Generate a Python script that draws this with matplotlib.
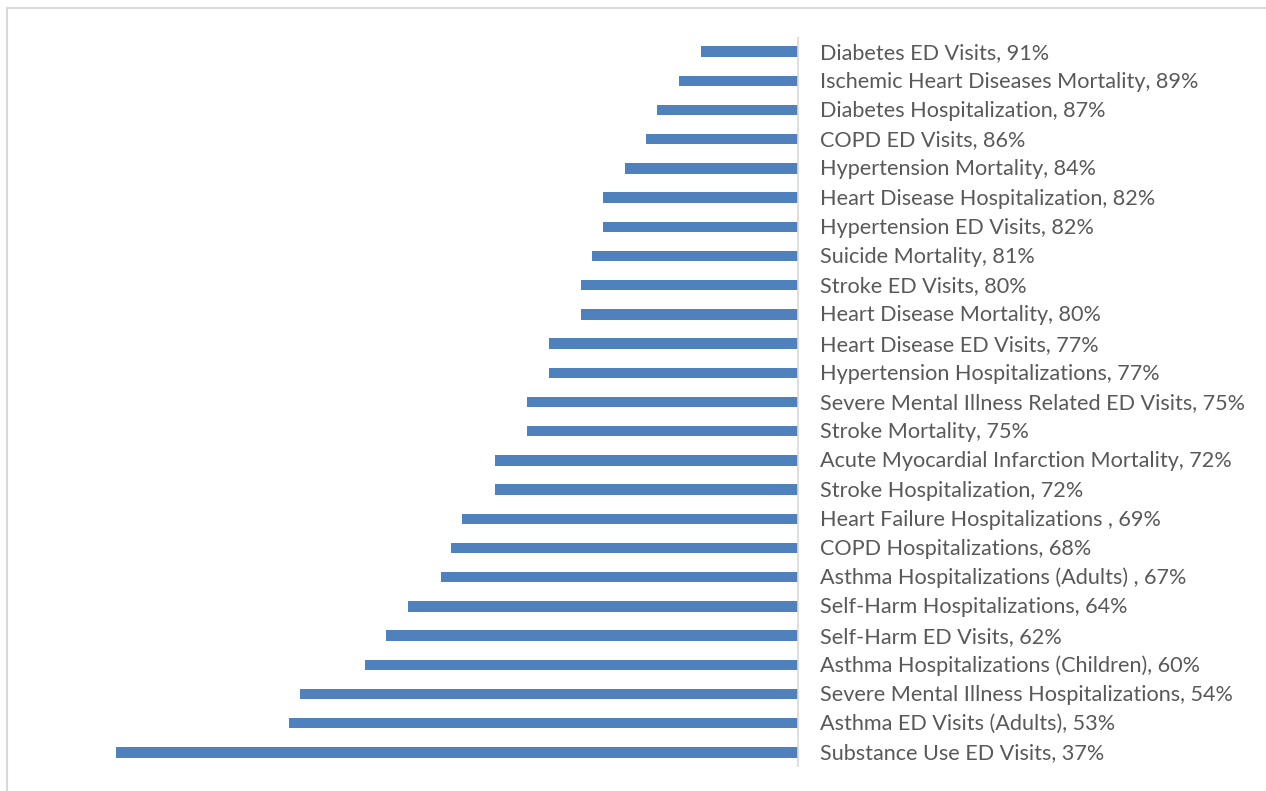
import matplotlib.pyplot as plt
from matplotlib.patches import Rectangle

# measures, top to bottom
labels = [
    "Diabetes ED Visits", "Ischemic Heart Diseases Mortality", "Diabetes Hospitalization",
    "COPD ED Visits", "Hypertension Mortality", "Heart Disease Hospitalization",
    "Hypertension ED Visits", "Suicide Mortality", "Stroke ED Visits",
    "Heart Disease Mortality", "Heart Disease ED Visits", "Hypertension Hospitalizations",
    "Severe Mental Illness Related ED Visits", "Stroke Mortality",
    "Acute Myocardial Infarction Mortality", "Stroke Hospitalization",
    "Heart Failure Hospitalizations ", "COPD Hospitalizations",
    "Asthma Hospitalizations (Adults) ", "Self-Harm Hospitalizations", "Self-Harm ED Visits",
    "Asthma Hospitalizations (Children)", "Severe Mental Illness Hospitalizations",
    "Asthma ED Visits (Adults)", "Substance Use ED Visits",
]
pct = [91, 89, 87, 86, 84, 82, 82, 81, 80, 80, 77, 77, 75, 75, 72, 72, 69, 68, 67, 64, 62, 60, 54, 53, 37]

W, H = 1266, 791
fig = plt.figure(figsize=(W / 100, H / 100), dpi=100)
fig.patches.append(Rectangle((7 / W, -0.01), 1.02, 1 - 8 / H + 0.01, transform=fig.transFigure,
                             fill=False, edgecolor="#d9d9d9", lw=1.5))

ax = fig.add_axes([8 / W, 1 - 767 / H, 1 - 8 / W, 730 / H])
ypos = list(range(len(pct)))[::-1]
gaps = [v - 100 for v in pct]
ax.barh(ypos, gaps, height=0.36, color="#4f81bd")

px_per_unit = 10.83
ax.set_xlim(-(798 - 8) / px_per_unit, (W - 798) / px_per_unit)
ax.set_ylim(-0.5, len(pct) - 0.5)

ax.axvline(0, color="#d9d9d9", lw=1.2)
for y, name, v in zip(ypos, labels, pct):
    ax.annotate(f"{name}, {v}%", (0, y), xytext=(22, -7), textcoords="offset pixels",
                va="baseline", ha="left", fontsize=15.6, color="#595959", family="Lato")

ax.set_axis_off()
fig.savefig("out.png", dpi=100)
